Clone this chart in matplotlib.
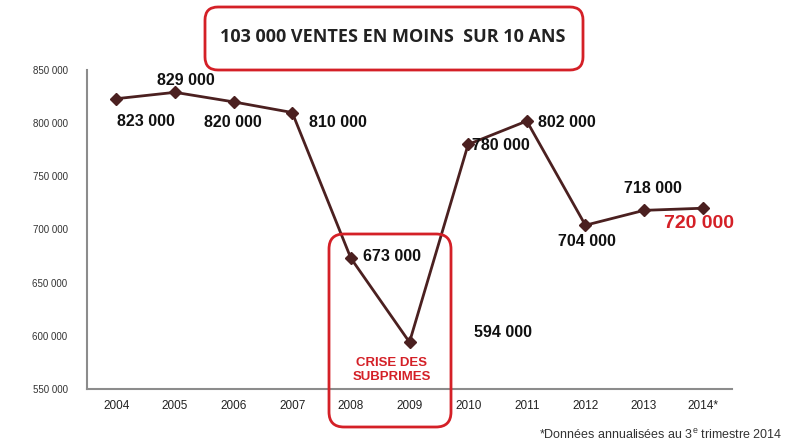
import matplotlib as mpl
mpl.use('Agg')
import matplotlib.pyplot as plt
from matplotlib.patches import FancyBboxPatch

years = ['2004', '2005', '2006', '2007', '2008', '2009', '2010', '2011', '2012', '2013', '2014*']
ventes = [823000, 829000, 820000, 810000, 673000, 594000, 780000, 802000, 704000, 718000, 720000]
labels = ['823 000', '829 000', '820 000', '810 000', '673 000', '594 000',
          '780 000', '802 000', '704 000', '718 000', '720 000']
yticks = [550000, 600000, 650000, 700000, 750000, 800000, 850000]
ytick_labels = ['550 000', '600 000', '650 000', '700 000', '750 000', '800 000', '850 000']

# decalage des etiquettes (pixels)
offsets = [(30, -23), (11, 12), (-1, -21), (46, -10), (41, 2), (93, 10),
           (33, -1), (40, -1), (2, -16), (9, 22), (-4, -15)]

plt.rcParams['font.family'] = ['Liberation Sans', 'DejaVu Sans']
plt.rcParams['mathtext.fontset'] = 'custom'
plt.rcParams['mathtext.rm'] = 'Liberation Sans'

fig = plt.figure(figsize=(8, 4.47), dpi=100)
ax = fig.add_axes([0.10875, 0.1298, 0.80625, 0.7136])

line_col = '#4b2020'
red = '#d42027'
x = list(range(len(years)))
ax.plot(x, ventes, color=line_col, lw=2, marker='D', ms=6, mfc=line_col, mec=line_col)

for i, (v, lab, off) in enumerate(zip(ventes, labels, offsets)):
    last = i == len(years) - 1
    ax.annotate(lab, (i, v), xytext=off, textcoords='offset pixels',
                ha='center', va='center', fontweight='bold',
                fontsize=14 if last else 11.5,
                color=red if last else '#111111')

ax.set_xlim(-0.5, 10.5)
ax.set_ylim(550000, 850000)
ax.set_xticks(x)
ax.set_xticklabels(years, fontsize=8.5, color='#222222')
ax.set_yticks(yticks)
ax.set_yticklabels(ytick_labels, fontsize=7, color='#333333')
ax.tick_params(length=0, pad=8)
ax.tick_params(axis='y', pad=14)
for s in ['top', 'right']:
    ax.spines[s].set_visible(False)
for s in ['left', 'bottom']:
    ax.spines[s].set_color('#8c8c8c')
    ax.spines[s].set_linewidth(1.5)

# cadre titre
tr = fig.dpi_scale_trans
fig.patches.append(FancyBboxPatch((2.05, 4.47 - 0.70), 3.78, 0.63,
                                  boxstyle='round,pad=0,rounding_size=0.13',
                                  transform=tr, fc='white', ec=red, lw=2))
fig.text(3.93 / 8, (4.47 - 0.37) / 4.47, '103 000 VENTES EN MOINS  SUR 10 ANS',
         family=['Open Sans', 'DejaVu Sans'], fontweight='bold', fontsize=13,
         color='#222222', ha='center', va='center')

# cadre crise
fig.patches.append(FancyBboxPatch((3.29, 4.47 - 4.27), 1.22, 1.93,
                                  boxstyle='round,pad=0,rounding_size=0.15',
                                  transform=tr, fc='none', ec=red, lw=2))
fig.text(3.92 / 8, (4.47 - 3.70) / 4.47, 'CRISE DES\nSUBPRIMES', color=red,
         fontweight='bold', fontsize=9.5, ha='center', va='center', linespacing=1.2)

fig.text(0.978, (4.47 - 4.35) / 4.47, '*Données annualisées au 3$^{\\mathrm{e}}$ trimestre 2014',
         fontsize=9, color='#333333', ha='right', va='center')

plt.savefig('out.png', dpi=100)
